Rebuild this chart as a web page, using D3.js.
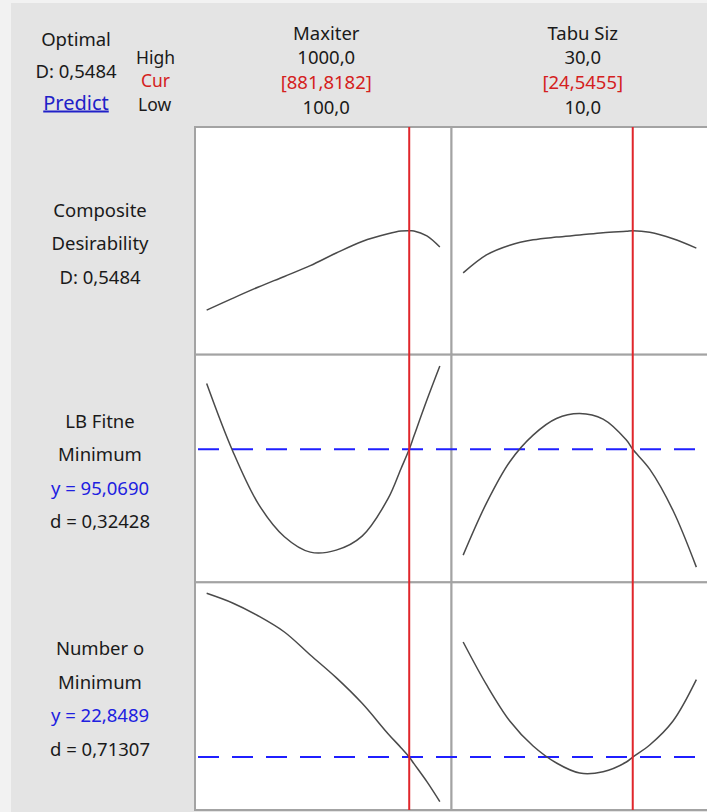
<!DOCTYPE html>
<html>
<head>
<meta charset="utf-8">
<script src="https://cdn.jsdelivr.net/npm/d3@7"></script>
<style>
  html, body { margin: 0; padding: 0; background: #f2f2f2; }
  svg { display: block; }
  text { font-family: "Noto Sans", "Open Sans", sans-serif; }
</style>
</head>
<body>
<svg id="chart" width="707" height="812"></svg>
<script>
// Factor settings
const factorNames = ["Maxiter", "Tabu Siz"];
const factorHigh = ["1000,0", "30,0"];
const factorCur = ["[881,8182]", "[24,5455]"];
const factorLow = ["100,0", "10,0"];
const factorRange = [[100, 1000], [10, 30]];
const currentSetting = [881.8182, 24.5455];

// Evaluation points along each factor
const maxiterLevels = [100, 200, 300, 400, 500, 600, 700, 800, 850, 881.8182, 900, 950, 1000];
const tabuLevels = [10, 12, 14, 16, 18, 20, 22, 24, 24.5455, 26, 28, 30];

// Composite desirability
const desirMaxiter = [0.165, 0.222, 0.277, 0.328, 0.380, 0.441, 0.497, 0.534, 0.547, 0.5484, 0.548, 0.524, 0.470];
const desirTabu = [0.345, 0.432, 0.479, 0.505, 0.518, 0.528, 0.539, 0.546, 0.5484, 0.541, 0.510, 0.465];

// LB Fitness response
const lbMaxiter = [98.36, 95.00, 92.33, 90.70, 89.93, 90.03, 90.73, 92.60, 94.10, 95.069, 95.73, 97.53, 99.23];
const lbTabu = [89.78, 92.38, 94.45, 95.78, 96.61, 96.86, 96.58, 95.53, 95.069, 94.08, 92.01, 89.18];

// Number of ... response
const numMaxiter = [27.76, 27.47, 27.08, 26.60, 25.91, 25.23, 24.46, 23.55, 23.13, 22.8489, 22.65, 22.11, 21.51];
const numTabu = [26.30, 25.02, 23.93, 23.18, 22.67, 22.37, 22.41, 22.70, 22.8489, 23.21, 23.93, 25.17];

// Row summaries
const rowLabels = [
  ["Composite", "Desirability", "D: 0,5484"],
  ["LB Fitne", "Minimum", "y = 95,0690", "d = 0,32428"],
  ["Number o", "Minimum", "y = 22,8489", "d = 0,71307"]
];
const rowTargets = [null, 95.069, 22.8489];
const rowDomains = [[-0.05, 1.05], [88.42, 99.80], [21.26, 28.09]];

// ---- layout ----
const W = 707, H = 812;
const plotLeft = 195, colW = 256.5, plotTop = 127, plotBottom = 810;
const rowH = (plotBottom - plotTop) / 3;
const labelX = 100;
const fs = 18.5;

const svg = d3.select("#chart");
svg.append("rect").attr("x", 11).attr("y", 3).attr("width", W).attr("height", H).attr("fill", "#e4e4e4");

const levels = [maxiterLevels, tabuLevels];
const series = [
  [desirMaxiter, desirTabu],
  [lbMaxiter, lbTabu],
  [numMaxiter, numTabu]
];

// x scales: factor range padded by 5% on each side
const xScales = factorRange.map((r, i) => {
  const pad = (r[1] - r[0]) * 0.05;
  const x0 = plotLeft + i * colW;
  return d3.scaleLinear().domain([r[0] - pad, r[1] + pad]).range([x0, x0 + colW]);
});
const yScales = rowDomains.map((d, j) => {
  const y0 = plotTop + j * rowH;
  return d3.scaleLinear().domain(d).range([y0 + rowH, y0]);
});

// panels
for (let j = 0; j < 3; j++) {
  for (let i = 0; i < 2; i++) {
    svg.append("rect")
      .attr("x", plotLeft + i * colW).attr("y", plotTop + j * rowH)
      .attr("width", colW).attr("height", rowH)
      .attr("fill", "#ffffff").attr("stroke", "#a3a3a3").attr("stroke-width", 2);
  }
}

// response target lines (blue dashed)
for (let j = 1; j < 3; j++) {
  const y = yScales[j](rowTargets[j]);
  svg.append("line")
    .attr("x1", plotLeft).attr("x2", plotLeft + 2 * colW)
    .attr("y1", y).attr("y2", y)
    .attr("stroke", "#1f1fff").attr("stroke-width", 2)
    .attr("stroke-dasharray", "21,13").attr("stroke-dashoffset", -3);
}

// response curves
for (let j = 0; j < 3; j++) {
  for (let i = 0; i < 2; i++) {
    const pts = levels[i].map((v, k) => [v, series[j][i][k]]);
    const line = d3.line()
      .x(d => xScales[i](d[0]))
      .y(d => yScales[j](d[1]))
      .curve(d3.curveCatmullRom.alpha(0.5));
    svg.append("path").datum(pts)
      .attr("d", line).attr("fill", "none")
      .attr("stroke", "#4a4a4a").attr("stroke-width", 1.5);
  }
}

// current setting lines (red)
for (let i = 0; i < 2; i++) {
  const x = xScales[i](currentSetting[i]);
  svg.append("line")
    .attr("x1", x).attr("x2", x).attr("y1", plotTop).attr("y2", plotBottom)
    .attr("stroke", "#e0262b").attr("stroke-width", 2);
}

// column headers
const hdr = svg.append("g").attr("font-size", fs).attr("text-anchor", "middle");
for (let i = 0; i < 2; i++) {
  const cx = plotLeft + i * colW + colW / 2 + 3;
  hdr.append("text").attr("x", cx).attr("y", 39.5).attr("fill", "#1a1a1a").text(factorNames[i]);
  hdr.append("text").attr("x", cx).attr("y", 63.5).attr("fill", "#1a1a1a").text(factorHigh[i]);
  hdr.append("text").attr("x", cx).attr("y", 88.5).attr("fill", "#d42020").text(factorCur[i]);
  hdr.append("text").attr("x", cx).attr("y", 113.5).attr("fill", "#1a1a1a").text(factorLow[i]);
}

// optimum summary
const opt = svg.append("g").attr("font-size", fs);
opt.append("text").attr("x", 76).attr("y", 46).attr("text-anchor", "middle").attr("fill", "#1a1a1a").text("Optimal");
opt.append("text").attr("x", 76).attr("y", 78).attr("text-anchor", "middle").attr("fill", "#1a1a1a").text("D: 0,5484");
opt.append("text").attr("x", 76).attr("y", 109.5).attr("text-anchor", "middle").attr("fill", "#2020c8")
  .attr("font-size", 20).attr("text-decoration", "underline").text("Predict");
const hcl = svg.append("g").attr("font-size", 17.5);
hcl.append("text").attr("x", 136).attr("y", 63.5).attr("fill", "#1a1a1a").text("High");
hcl.append("text").attr("x", 141).attr("y", 86.5).attr("fill", "#d42020").text("Cur");
hcl.append("text").attr("x", 138).attr("y", 111).attr("fill", "#1a1a1a").text("Low");

// row labels
const lab = svg.append("g").attr("font-size", fs).attr("text-anchor", "middle");
rowLabels.forEach((lines, j) => {
  const cy = plotTop + j * rowH + rowH / 2;
  const n = lines.length;
  lines.forEach((t, k) => {
    const y = cy + (k - (n - 1) / 2) * 33.5 + 9.5;
    lab.append("text").attr("x", labelX).attr("y", y)
      .attr("fill", t.startsWith("y =") ? "#2020e0" : "#1a1a1a")
      .text(t);
  });
});
</script>
</body>
</html>
